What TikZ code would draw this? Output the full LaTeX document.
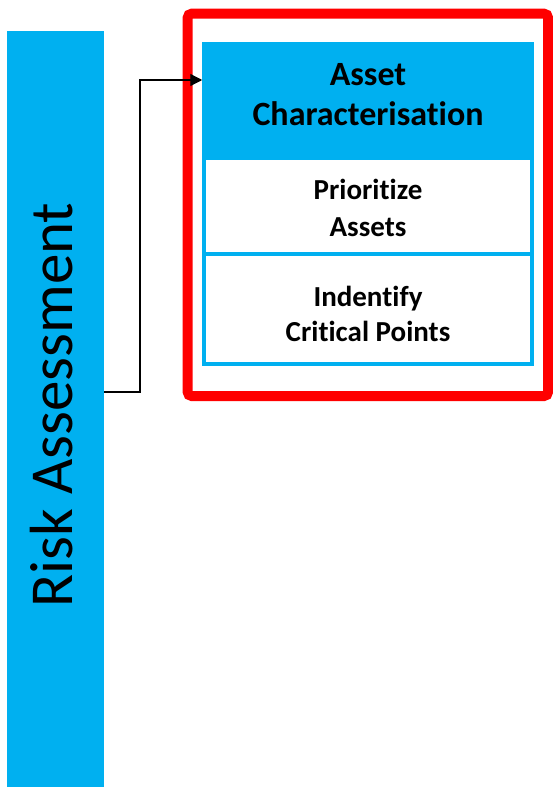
\documentclass[tikz,border=0pt]{standalone}
\usepackage{fontspec}
\setmainfont{Carlito}[Ligatures={NoCommon}]
\usetikzlibrary{arrows.meta,shadows}
\definecolor{cyanblue}{HTML}{00B0F0}
\definecolor{framered}{HTML}{FF0000}
\tikzset{
  bar/.style={fill=cyanblue, draw=none},
  frame/.style={draw=framered, line width=10pt, outer sep=0pt, rounded corners=4pt, fill=white,
    drop shadow={shadow xshift=2pt, shadow yshift=-3pt, fill=black!40, opacity=0.5}},
  header/.style={fill=cyanblue, draw=cyanblue, line width=3.5pt, outer sep=0pt},
  cell/.style={fill=white, draw=cyanblue, line width=3.5pt, outer sep=0pt},
  boldtxt/.style={font=\bfseries, align=center, text=black},
  conn/.style={draw=black, line width=1.3pt, -{Triangle[length=12pt,width=12pt]}},
}
\begin{document}
\begin{tikzpicture}[x=1pt,y=-1pt]
\useasboundingbox (0,0) rectangle (552,787);
% left bar
\node[bar, minimum width=97pt, minimum height=756pt, inner sep=0pt, outer sep=0pt, anchor=north west] (bar) at (7,31) {};
\node[rotate=90, font=\fontsize{61}{70}\selectfont] (risk) at ([xshift=-4pt,yshift=4pt]bar.center) {Risk Assessment};
% red frame
\node[frame, minimum width=360.3pt, minimum height=382.3pt, inner sep=0pt, anchor=north west] (frame) at (187.7,13.7) {};
% header
\node[header, minimum width=328pt, minimum height=114pt, inner sep=0pt, anchor=north west] (head) at (204,44) {};
\node[boldtxt, font=\bfseries\fontsize{34}{40}\selectfont] (headtxt) at ([yshift=6pt]head.center) {Asset\\Characterisation};
% cells
\node[cell, minimum width=328pt, minimum height=96pt, inner sep=0pt, anchor=north west] (cellA) at (204,158) {};
\node[boldtxt, font=\bfseries\fontsize{29}{37}\selectfont] (cellAtxt) at ([yshift=-2pt]cellA.center) {Prioritize\\Assets};
\node[cell, minimum width=328pt, minimum height=110pt, inner sep=0pt, anchor=north west] (cellB) at (204,254) {};
\node[boldtxt, font=\bfseries\fontsize{29}{35}\selectfont] (cellBtxt) at (368,314) {Indentify\\Critical Points};
% connector
\coordinate (start) at (bar.east |- 0,392);
\coordinate (tip) at ([xshift=-1.75pt]head.west |- 0,80);
\draw[conn] (start) -- (140,392) -- (140,80) -- (tip);
\end{tikzpicture}
\end{document}
